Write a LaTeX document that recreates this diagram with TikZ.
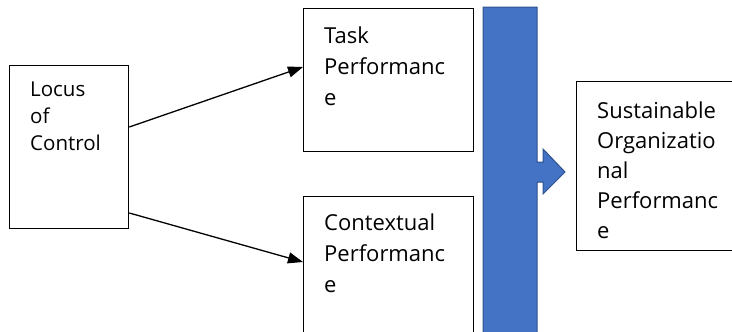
\documentclass[tikz,border=0pt]{standalone}
\usepackage{fontspec}
\setmainfont[Ligatures=NoCommon]{Open Sans}
\usetikzlibrary{arrows.meta,calc}
\definecolor{barblue}{HTML}{4472C4}
\definecolor{barline}{HTML}{2F528F}
\begin{document}
\begin{tikzpicture}[x=1pt,y=-1pt,
  box/.style={draw=black,line width=1.3pt,rectangle,anchor=north west,inner sep=0pt},
  label/.style={anchor=north west,align=left,inner sep=0pt,font=\fontsize{22}{31}\selectfont},
  conn/.style={line width=1.3pt,-{Triangle[length=15pt,width=11pt]}}]
\useasboundingbox (0,0) rectangle (732,332);
\clip (0,0) rectangle (732,332);
% boxes
\node[box,minimum width=119pt,minimum height=163pt] (locus) at (9,65) {};
\node[box,minimum width=170pt,minimum height=143pt] (task) at (303,8) {};
\node[box,minimum width=170pt,minimum height=150pt] (context) at (303,196) {};
\node[box,minimum width=170pt,minimum height=169pt] (sust) at (576,81) {};
% texts
\node[label,font=\fontsize{20.5}{27}\selectfont] (tlocus) at ($(locus.north west)+(21,17)$) {Locus\\of\\Control};
\node[label] (ttask) at ($(task.north west)+(21,19)$) {Task\\Performanc\\e};
\node[label] (tcontext) at ($(context.north west)+(21,18)$) {Contextual\\Performanc\\e};
\node[label,font=\fontsize{22}{30}\selectfont] (tsust) at ($(sust.north west)+(21,21)$) {Sustainable\\Organizatio\\nal\\Performanc\\e};
% blue bar with arrow
\draw[fill=barblue,draw=barline,line width=1pt]
  (483,7) -- (537,7) -- (537,162) -- (543,162) -- (543,149) -- (565,172)
  -- (543,194) -- (543,182) -- (537,182) -- (537,345) -- (483,345) -- cycle;
% connectors
\coordinate (a1) at ($(locus.north east)+(0,62)$);
\coordinate (b1) at ($(task.north west)+(0,59)$);
\coordinate (a2) at ($(locus.north east)+(0,148)$);
\coordinate (b2) at ($(context.north west)+(0,66)$);
\draw[conn] (a1) -- (b1);
\draw[conn] (a2) -- (b2);
\end{tikzpicture}
\end{document}
